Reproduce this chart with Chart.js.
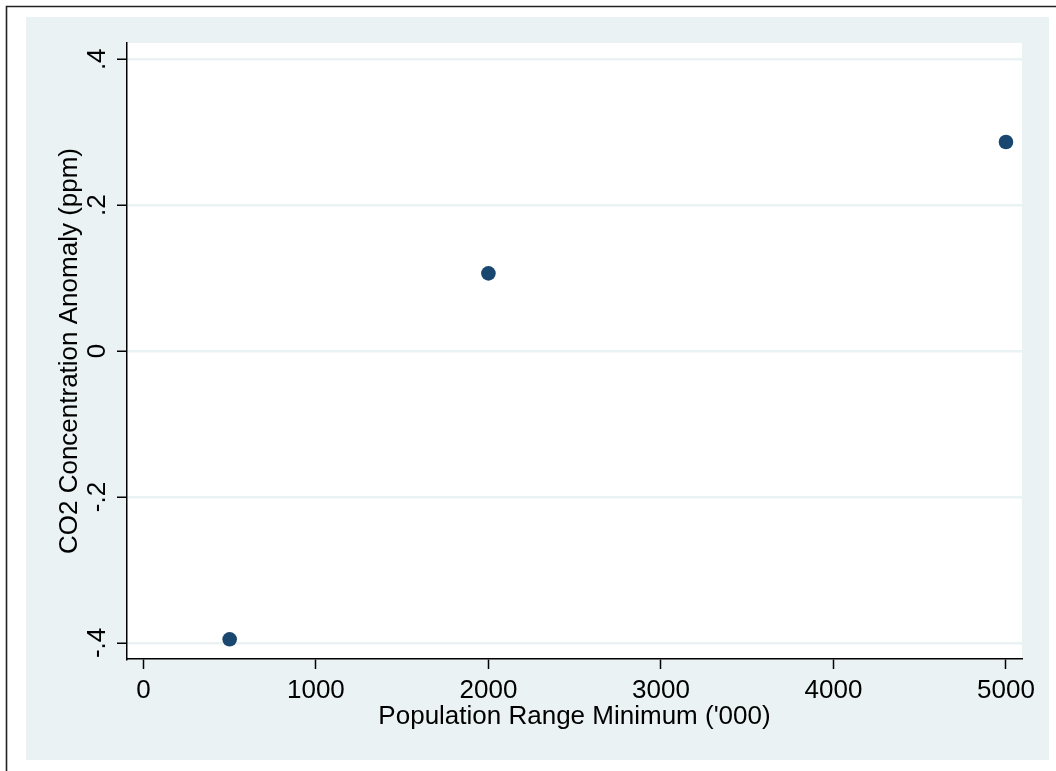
<!DOCTYPE html>
<html>
<head>
<meta charset="utf-8">
<script src="https://cdn.jsdelivr.net/npm/chart.js@4/dist/chart.umd.min.js"></script>
<style>
  html, body { margin: 0; padding: 0; background: #ffffff; }
  #chart { display: block; }
</style>
</head>
<body>
<canvas id="chart" width="1056" height="771"></canvas>
<script>
// Population thresholds ('000) and the matching CO2 anomaly estimates (ppm)
const populationMin = [500, 2000, 5000];
const co2Anomaly = [-0.395, 0.1066, 0.2866];

// Axis ticks and their labels
const xTickValues = [0, 1000, 2000, 3000, 4000, 5000];
const yTickValues = [-0.4, -0.2, 0, 0.2, 0.4];
const yTickLabels = ['-.4', '-.2', '0', '.2', '.4'];

const xRange = [-95, 5093];
const yRange = [-0.422, 0.4223];

const FONT = { family: '"Liberation Sans", Arial, sans-serif', size: 26 };
const BG = '#eaf2f3';
const MARKER = '#1a476f';

// Paints the page frame, the tinted graph region and the white plot region
const backdrop = {
  id: 'backdrop',
  beforeDraw(chart) {
    const { ctx, chartArea: a } = chart;
    ctx.save();
    ctx.fillStyle = '#ffffff';
    ctx.fillRect(0, 0, chart.width, chart.height);
    ctx.fillStyle = BG;
    ctx.fillRect(26, 17, 1049 - 26, 760 - 17);
    ctx.fillStyle = '#ffffff';
    ctx.fillRect(a.left, a.top, a.right - a.left, a.bottom - a.top);
    ctx.strokeStyle = '#222222';
    ctx.lineWidth = 1.6;
    ctx.beginPath();
    ctx.moveTo(6.5, chart.height);
    ctx.lineTo(6.5, 6.5);
    ctx.lineTo(chart.width, 6.5);
    ctx.stroke();
    ctx.restore();
  }
};

new Chart(document.getElementById('chart'), {
  type: 'scatter',
  data: {
    datasets: [{
      data: populationMin.map((x, i) => ({ x, y: co2Anomaly[i] })),
      backgroundColor: MARKER,
      borderColor: MARKER,
      borderWidth: 0,
      pointRadius: 7.3,
      pointHoverRadius: 7.3
    }]
  },
  options: {
    responsive: false,
    animation: false,
    events: [],
    layout: { padding: { left: 0, top: 43, right: 34, bottom: 0 } },
    plugins: {
      legend: { display: false },
      tooltip: { enabled: false }
    },
    scales: {
      x: {
        type: 'linear',
        position: 'bottom',
        min: xRange[0],
        max: xRange[1],
        afterBuildTicks(scale) { scale.ticks = xTickValues.map(v => ({ value: v })); },
        afterFit(scale) { scale.height = 112; },
        ticks: {
          font: FONT,
          color: '#000000',
          padding: 6,
          maxRotation: 0,
          minRotation: 0,
          callback: v => String(v)
        },
        grid: {
          drawOnChartArea: false,
          drawTicks: true,
          tickLength: 10,
          tickColor: '#000000',
          tickWidth: 1.5
        },
        border: { display: true, color: '#000000', width: 1.5 },
        title: {
          display: true,
          text: "Population Range Minimum ('000)",
          font: FONT,
          color: '#000000',
          padding: { top: 0, bottom: 39 }
        }
      },
      y: {
        type: 'linear',
        position: 'left',
        min: yRange[0],
        max: yRange[1],
        afterBuildTicks(scale) { scale.ticks = yTickValues.map(v => ({ value: v })); },
        afterFit(scale) { scale.width = 127; },
        ticks: {
          font: FONT,
          color: '#000000',
          padding: 4,
          minRotation: 90,
          maxRotation: 90,
          crossAlign: 'center',
          callback: (v) => {
            const i = yTickValues.findIndex(t => Math.abs(t - v) < 1e-9);
            return i >= 0 ? yTickLabels[i] : '';
          }
        },
        grid: {
          drawOnChartArea: true,
          color: BG,
          lineWidth: 2.5,
          drawTicks: true,
          tickLength: 10,
          tickColor: '#000000',
          tickWidth: 1.5
        },
        border: { display: true, color: '#000000', width: 1.5 },
        title: {
          display: true,
          text: 'CO2 Concentration Anomaly (ppm)',
          font: FONT,
          color: '#000000',
          padding: { top: 54, bottom: 0 }
        }
      }
    }
  },
  plugins: [backdrop]
});
</script>
</body>
</html>
